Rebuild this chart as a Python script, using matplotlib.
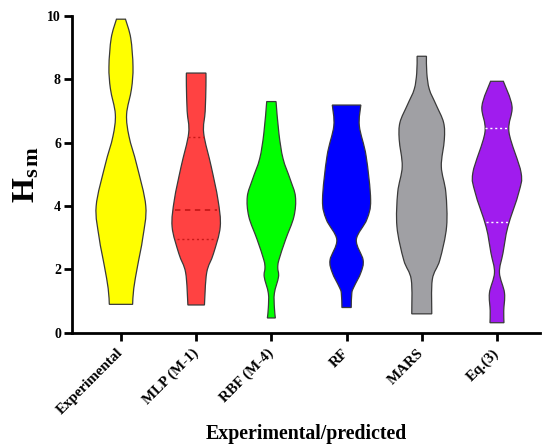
import numpy as np
import matplotlib.pyplot as plt
from matplotlib.path import Path
from matplotlib.patches import PathPatch

plt.rcParams['font.family'] = 'Liberation Serif'
plt.rcParams['font.weight'] = 'bold'
plt.rcParams['mathtext.fontset'] = 'custom'
plt.rcParams['mathtext.rm'] = 'Liberation Serif:bold'
plt.rcParams['mathtext.it'] = 'Liberation Serif:bold'
plt.rcParams['mathtext.bf'] = 'Liberation Serif:bold'

labels = ["Experimental", "MLP (M-1)", "RBF (M-4)", "RF", "MARS", "Eq.(3)"]
colors = ["#ffff00", "#ff4242", "#00ff00", "#0000ff", "#a0a0a4", "#a01cee"]

# violin outlines: level (Hsm) and half width (category units)
exp_y = [0.9, 1.4, 2.1, 3.0, 4.0, 5.3, 6.2, 6.9, 7.7, 8.4, 9.3, 9.9]
exp_w = [0.155, 0.17, 0.22, 0.29, 0.33, 0.21, 0.107, 0.075, 0.14, 0.16, 0.13, 0.06]
mlp_y = [0.88, 1.9, 2.5, 3.35, 4.2, 5.25, 6.3, 7.0, 7.8, 8.2]
mlp_w = [0.11, 0.14, 0.23, 0.32, 0.29, 0.2, 0.10, 0.12, 0.13, 0.13]
rbf_y = [0.47, 0.8, 1.25, 1.77, 2.05, 2.3, 2.95, 3.67, 4.3, 4.85, 5.5, 6.3, 7.3]
rbf_w = [0.053, 0.04, 0.04, 0.095, 0.085, 0.1, 0.19, 0.30, 0.32, 0.25, 0.155, 0.10, 0.062]
rf_y = [0.8, 1.26, 1.46, 1.9, 2.3, 2.94, 3.58, 4.2, 5.58, 6.53, 7.19]
rf_w = [0.062, 0.07, 0.1, 0.19, 0.22, 0.13, 0.27, 0.32, 0.26, 0.17, 0.19]
mars_y = [0.6, 1.68, 2.3, 3.35, 4.43, 5.25, 6.1, 6.64, 7.2, 7.69, 8.2, 8.73]
mars_w = [0.133, 0.14, 0.24, 0.33, 0.32, 0.26, 0.30, 0.29, 0.19, 0.10, 0.067, 0.062]
eq_y = [0.32, 0.7, 1.26, 1.9, 2.52, 3.35, 4.43, 5.06, 6.33, 7.15, 7.94]
eq_w = [0.093, 0.09, 0.1, 0.033, 0.08, 0.145, 0.29, 0.32, 0.16, 0.2, 0.085]

profiles = [(exp_y, exp_w), (mlp_y, mlp_w), (rbf_y, rbf_w),
            (rf_y, rf_w), (mars_y, mars_w), (eq_y, eq_w)]

# median / quartile lines that are visible
mlp_median = 3.89
mlp_quartiles = [2.97, 6.17]
eq_quartiles = [3.5, 6.48]


def smooth_side(pts):
    # Catmull-Rom through the outline points, as cubic bezier segments
    pts = np.asarray(pts, float)
    ext = np.vstack([pts[0], pts, pts[-1]])
    verts, codes = [], []
    for i in range(1, len(ext) - 2):
        p0, p1, p2, p3 = ext[i - 1], ext[i], ext[i + 1], ext[i + 2]
        verts += [p1 + (p2 - p0) / 6, p2 - (p3 - p1) / 6, p2]
        codes += [Path.CURVE4] * 3
    return verts, codes


fig = plt.figure(figsize=(5.42, 4.45), dpi=100)
ax = fig.add_axes([0.133, 0.252, 0.863, 0.712])

for i, ((ys, ws), col) in enumerate(zip(profiles, colors)):
    ys = np.asarray(ys)
    ws = np.asarray(ws)
    right = np.column_stack([i + ws, ys])
    left = np.column_stack([i - ws, ys])[::-1]
    verts = [right[0]]
    codes = [Path.MOVETO]
    v, c = smooth_side(right)
    verts += v
    codes += c
    verts.append(left[0])
    codes.append(Path.LINETO)
    v, c = smooth_side(left)
    verts += v
    codes += c
    verts.append(right[0])
    codes.append(Path.CLOSEPOLY)
    ax.add_patch(PathPatch(Path(verts, codes), facecolor=col,
                           edgecolor="#3a3a3a", lw=0.9, zorder=2))

def hline(i, y, **kw):
    ys, ws = profiles[i]
    w = np.interp(y, ys, ws) * 0.92
    ax.plot([i - w, i + w], [y, y], zorder=3, **kw)

hline(1, mlp_median, color="#c81818", lw=1.3, ls=(0, (3, 2.5)))
for q in mlp_quartiles:
    hline(1, q, color="#c81818", lw=1.0, ls=(0, (1.5, 2)))
for q in eq_quartiles:
    hline(5, q, color="white", lw=1.0, ls=(0, (1.5, 2)))

ax.set_xlim(-0.65, 5.57)
ax.set_ylim(0, 10)
ax.set_yticks([0, 2, 4, 6, 8, 10])
ax.set_xticks(range(len(labels)))
ax.set_xticklabels(labels, rotation=45, ha="right", va="center",
                   rotation_mode="anchor", fontsize=10.8, fontweight="bold")
for lab in ax.get_yticklabels():
    lab.set_fontsize(10)
    lab.set_fontweight("bold")

for s in ["top", "right"]:
    ax.spines[s].set_visible(False)
for s in ["left", "bottom"]:
    ax.spines[s].set_linewidth(2)
ax.tick_params(axis="both", direction="out", width=2, length=6, pad=2)
ax.tick_params(axis="x", pad=7)

ax.set_ylabel(r"$\mathrm{H}_{\mathrm{s\,m}}$", fontsize=23, labelpad=4)
ax.set_xlabel("Experimental/predicted", fontsize=14.3, fontweight="bold", labelpad=5)

fig.savefig("out.png", dpi=100, facecolor="white")
